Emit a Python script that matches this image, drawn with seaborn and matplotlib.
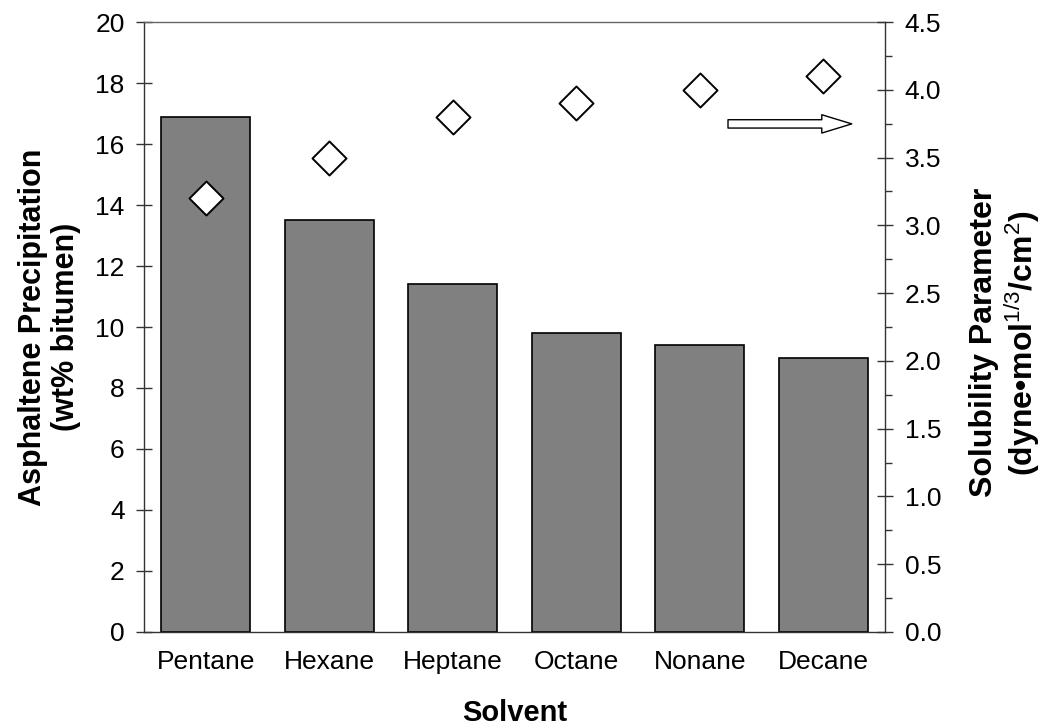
import matplotlib
matplotlib.use("Agg")
import matplotlib.pyplot as plt
import seaborn as sns
import numpy as np
import pandas as pd
from matplotlib.ticker import MultipleLocator

solvents = ["Pentane", "Hexane", "Heptane", "Octane", "Nonane", "Decane"]
precipitation = [16.9, 13.5, 11.4, 9.8, 9.4, 9.0]
solubility = [3.2, 3.5, 3.8, 3.9, 4.0, 4.1]

sns.set_theme(style="white", rc={"text.color": "black", "axes.labelcolor": "black",
                                 "xtick.color": "black", "ytick.color": "black"})
plt.rcParams["font.family"] = ["Liberation Sans", "DejaVu Sans"]
plt.rcParams["mathtext.fontset"] = "custom"
plt.rcParams["mathtext.rm"] = "Liberation Sans"
plt.rcParams["mathtext.bf"] = "Liberation Sans:bold"

fig = plt.figure(figsize=(10.46, 7.27), dpi=100)
ax = fig.add_axes([0.1377, 0.1307, 0.7085, 0.839])

df = pd.DataFrame({"Solvent": solvents, "Precip": precipitation})
sns.barplot(data=df, x="Solvent", y="Precip", order=solvents, color="#808080",
            saturation=1, edgecolor="black", linewidth=1.2, width=0.72, ax=ax)

ax.set_ylim(0, 20)
ax.set_xlim(-0.5, len(solvents) - 0.5)
ax.yaxis.set_major_locator(MultipleLocator(2))
ax.tick_params(axis="y", direction="inout", length=12, width=1, labelsize=19,
               pad=8, colors="#333333", labelcolor="black")
ax.tick_params(axis="x", length=0, labelsize=19, pad=13, labelcolor="black")
ax.set_xlabel("Solvent", fontsize=21, fontweight="bold", labelpad=18, color="black")
ax.set_ylabel("Asphaltene Precipitation\n(wt% bitumen)", fontsize=22,
              fontweight="bold", labelpad=10, linespacing=1.15, color="black")
for s in ["left", "bottom", "top", "right"]:
    ax.spines[s].set_visible(True)
    ax.spines[s].set_linewidth(1.0)
ax.spines["left"].set_color("#333333")
ax.spines["bottom"].set_color("#333333")
ax.spines["top"].set_color("#666666")
ax.spines["right"].set_visible(False)

ax2 = ax.twinx()
pos = np.arange(len(solvents))
sns.scatterplot(x=pos, y=solubility, marker="D", s=300, facecolor="white",
                edgecolor="black", linewidth=1.4, ax=ax2, zorder=5, legend=False)
ax2.set_ylim(0, 4.5)
ax2.yaxis.set_major_locator(MultipleLocator(0.5))
ax2.yaxis.set_minor_locator(MultipleLocator(0.25))
ax2.yaxis.set_major_formatter(matplotlib.ticker.FormatStrFormatter("%.1f"))
ax2.tick_params(axis="y", which="major", direction="inout", length=12, width=1,
                labelsize=19, pad=8, colors="#333333", labelcolor="black")
ax2.tick_params(axis="y", which="minor", direction="out", length=5, width=1,
                colors="#333333")
ax2.set_ylabel("Solubility Parameter\n(dyne\u2022mol$^{1/3}$/cm$^{2}$)", fontsize=23,
               fontweight="bold", labelpad=20, linespacing=1.1, color="black")
ax2.yaxis.label.set_y(0.474)
for s in ["left", "bottom", "top"]:
    ax2.spines[s].set_visible(False)
ax2.spines["right"].set_visible(True)
ax2.spines["right"].set_color("#333333")
ax2.spines["right"].set_linewidth(1.0)
ax2.set_xlim(-0.5, len(solvents) - 0.5)

ax2.annotate("", xy=(0.955, 0.833), xytext=(0.788, 0.833),
             xycoords="axes fraction", textcoords="axes fraction",
             arrowprops=dict(arrowstyle="simple,head_length=1.08,head_width=0.66,tail_width=0.3",
                             mutation_scale=20, fc="white", ec="black", lw=1.0,
                             shrinkA=0, shrinkB=0))

fig.savefig("out.png", dpi=100)
